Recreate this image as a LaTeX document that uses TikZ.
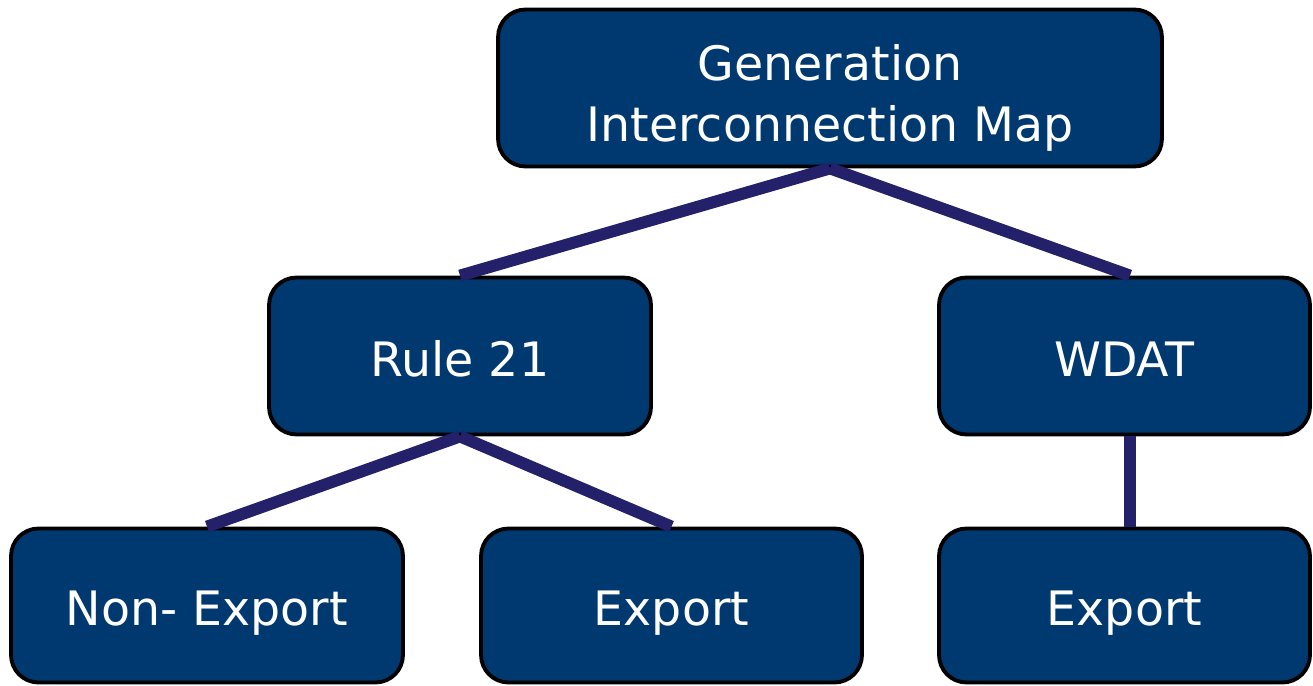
\documentclass[tikz,border=0pt]{standalone}
\usepackage{fontspec}
\setmainfont{DejaVu Sans}
\usetikzlibrary{positioning, calc}

\definecolor{boxblue}{RGB}{0,56,112}
\definecolor{linknavy}{RGB}{36,32,106}

\begin{document}
\begin{tikzpicture}[x=0.02cm, y=-0.02cm]
        \tikzstyle{block}=[rectangle, rounded corners=0.55cm, draw=black, line width=2.2pt, fill=boxblue, text=white, align=center, minimum height=3.14cm, font=\fontsize{27}{34.6}\selectfont];
        \tikzstyle{oneline}=[text height=23pt, text depth=0pt];
        \tikzstyle{link}=[-, line width=6.8pt, linknavy];

        \useasboundingbox (0, 0) rectangle (1313, 686);

        \node[block, minimum width=13.28cm] (gen) at (830, 88) {\rule{0pt}{32pt}Generation\\Interconnection Map};

        \node[block, oneline, minimum width=7.64cm] (rule) at (460, 356) {Rule 21};
        \node[block, oneline, minimum width=7.42cm] (wdat) at (1124.5, 356) {WDAT};

        \node[block, oneline, minimum width=7.84cm, minimum height=3.08cm] (nonexp) at (207, 605.5) {Non- Export};
        \node[block, oneline, minimum width=7.62cm, minimum height=3.08cm] (exp) at (671.5, 605.5) {Export};
        \node[block, oneline, minimum width=7.42cm, minimum height=3.08cm] (wexp) at (1124.5, 605.5) {Export};

        \draw (gen.south) edge[link] (rule.north);
        \draw (gen.south) edge[link] ($(wdat.north)+(5.5, 0)$);

        \draw (rule.south) edge[link] (nonexp.north);
        \draw (rule.south) edge[link] (exp.north);

        \draw ($(wdat.south)+(5.5, 0)$) edge[link] ($(wexp.north)+(5.5, 0)$);
    \end{tikzpicture}
\end{document}
